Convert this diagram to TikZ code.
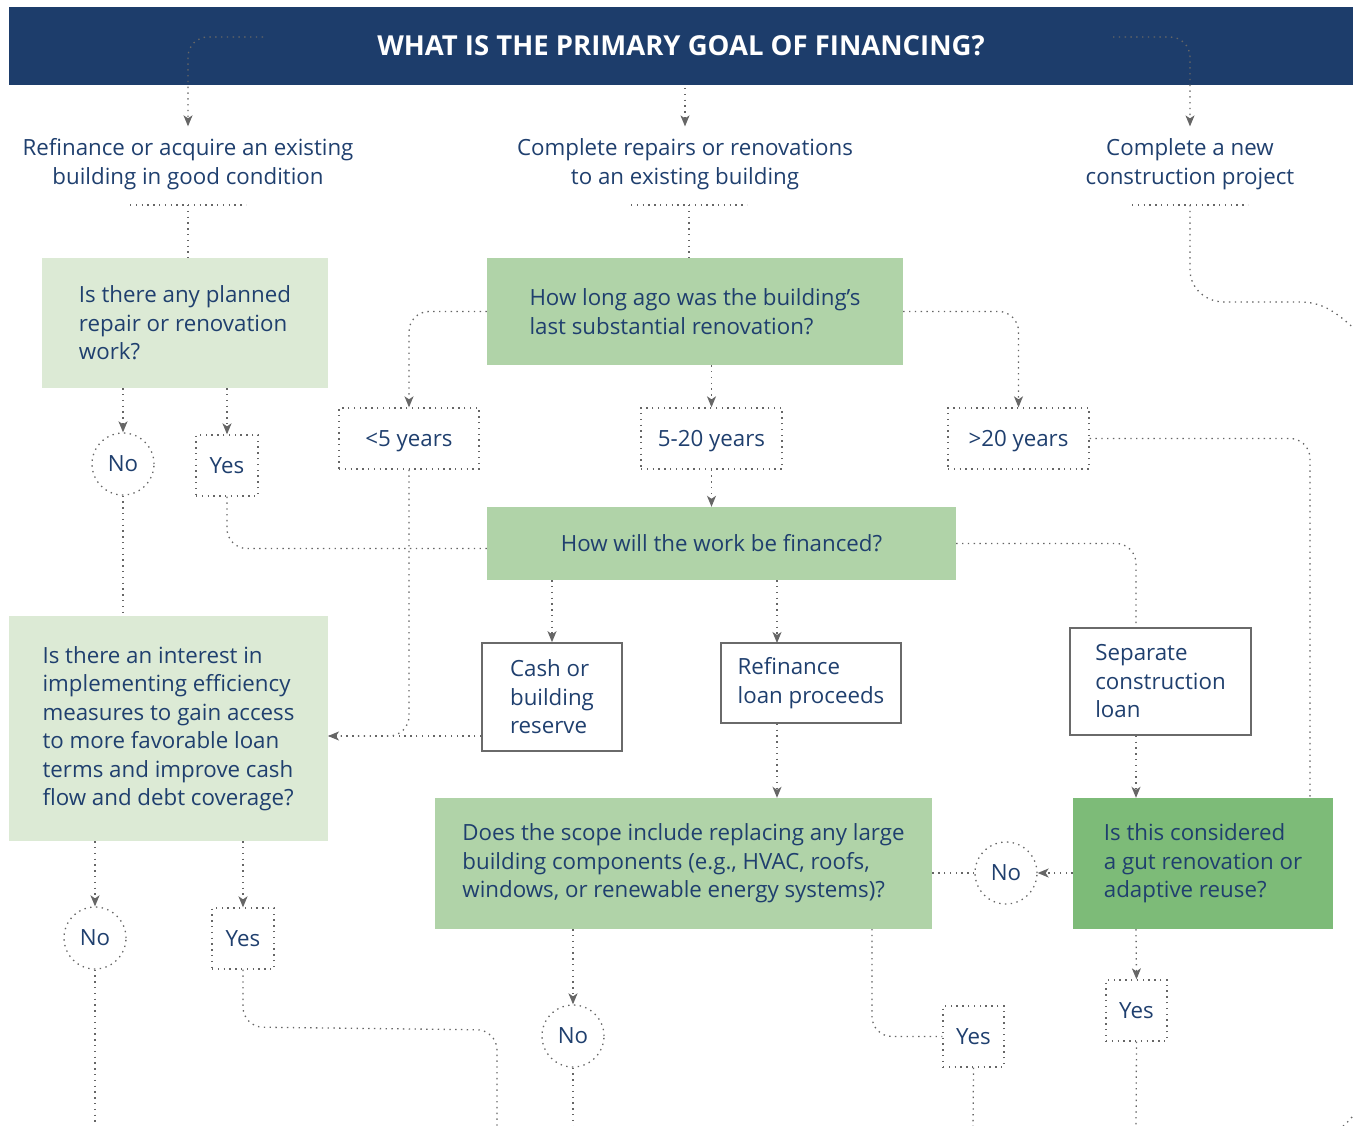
\documentclass[tikz,border=0pt]{standalone}
\usepackage{fontspec}
\setmainfont{Open Sans}
\usetikzlibrary{arrows.meta,calc}
\definecolor{hdr}{HTML}{1D3D6B}
\definecolor{ink}{HTML}{1F3F6E}
\definecolor{paleg}{HTML}{DCEAD5}
\definecolor{midg}{HTML}{B0D3A8}
\definecolor{deepg}{HTML}{7DBB78}
\definecolor{dotc}{HTML}{666666}
\definecolor{framec}{HTML}{6A6A6A}
% set a label a little lower without changing its box
\newcommand{\lowlabel}[1]{\raisebox{-3pt}[\height][\depth]{#1}}

\begin{document}
\begin{tikzpicture}[x=1pt,y=-1pt,
  every node/.style={text=ink, font=\fontsize{22.3}{28.5}\selectfont, inner sep=0pt},
  conn/.style={draw=dotc, line width=1.3pt, dash pattern=on 1.4pt off 4.4pt, rounded corners=20pt},
  arr/.style={conn, -{Stealth[length=11pt,width=9pt,inset=3pt,fill=dotc]}},
  head/.style={fill=hdr, text=white, font=\bfseries\fontsize{27.5}{30}\selectfont,
    minimum width=1344pt, minimum height=78pt},
  goal/.style={align=center, inner ysep=12pt},
  qbox/.style={rectangle, align=left},
  ansbox/.style={rectangle, draw=dotc, line width=1.3pt, dash pattern=on 1.4pt off 4.4pt},
  nocirc/.style={circle, draw=dotc, line width=1.3pt, dash pattern=on 1.4pt off 4.4pt,
    minimum size=62pt},
  yesbox/.style={ansbox, minimum width=62pt, minimum height=61pt},
  yearbox/.style={ansbox, minimum width=141pt, minimum height=61pt},
  fundbox/.style={rectangle, draw=framec, line width=1.6pt, align=left},
]
\useasboundingbox (0,0) rectangle (1353,1126);

% title bar
\node[head] (title) at (681,46) {WHAT IS THE PRIMARY GOAL OF FINANCING?};

% the three goals
\node[goal] (oL) at (188,164) {Refinance or acquire an existing\\building in good condition};
\node[goal] (oM) at (685,164) {Complete repairs or renovations\\to an existing building};
\node[goal] (oR) at (1190,164) {Complete a new\\construction project};

% questions
\node[qbox, fill=paleg, minimum width=286pt, minimum height=130pt] (qA) at (185,323)
  {Is there any planned\\repair or renovation\\work?};
\node[qbox, fill=midg, minimum width=416pt, minimum height=107pt] (qB) at (695,311.5)
  {How long ago was the building’s\\last substantial renovation?};
\node[qbox, fill=midg, minimum width=469pt, minimum height=73pt] (qW) at (721.5,543.5)
  {How will the work be financed?};
\node[qbox, fill=paleg, minimum width=319pt, minimum height=225pt] (qC) at (168.5,728.5)
  {Is there an interest in\\implementing efficiency\\measures to gain access\\to more favorable loan\\terms and improve cash\\flow and debt coverage?};
\node[qbox, fill=midg, minimum width=497pt, minimum height=131pt] (qE) at (683.5,863.5)
  {Does the scope include replacing any large\\building components (e.g., HVAC, roofs,\\windows, or renewable energy systems)?};
\node[qbox, fill=deepg, minimum width=260pt, minimum height=131pt] (qF) at (1203,863.5)
  {Is this considered\\a gut renovation or\\adaptive reuse?};

% renovation age
\node[yearbox, minimum width=140pt] (a1) at (409,438.5) {\lowlabel{<5 years}};
\node[yearbox] (a2) at (711.5,438.5) {\lowlabel{5-20 years}};
\node[yearbox] (a3) at (1018.5,438.5) {\lowlabel{>20 years}};

% funding sources
\node[fundbox, minimum width=140pt, minimum height=108pt] (fCash) at (552,697)
  {Cash or\\building\\reserve};
\node[fundbox, minimum width=180pt, minimum height=80pt] (fRefi) at (811,683)
  {Refinance\\loan proceeds};
\node[fundbox, minimum width=181pt, minimum height=107pt] (fSep) at (1160.5,681.5)
  {Separate\\construction\\loan};

% answers
\node[nocirc] (noA) at (123,464) {No};
\node[yesbox] (yesA) at (227,465.5) {Yes};
\node[nocirc] (noC) at (95,938) {No};
\node[yesbox] (yesC) at (243,938.5) {Yes};
\node[nocirc] (noE) at (573,1036) {No};
\node[yesbox, minimum width=61pt] (yesE) at (973.5,1036.5) {Yes};
\node[nocirc] (noF) at (1006,873) {No};
\node[yesbox, minimum width=61pt] (yesF) at (1136.5,1010.5) {Yes};

% helper points
\coordinate (hL) at (263,37);
\coordinate (hM) at (685,88);
\coordinate (hR) at (1113,37);
\coordinate (uL) at (188,205);
\coordinate (uM) at (689,205);
\coordinate (uR) at (1190,205);
\coordinate (exR) at (1364,337);
\coordinate (jC) at (328,736);
\coordinate (rT) at (777,643);
\coordinate (sT) at (1136,628);
\coordinate (fT) at (1310,798);
\coordinate (endC1) at (95,1132);
\coordinate (endC2) at (497,1132);
\coordinate (endE1) at (573,1132);
\coordinate (endE2) at (973,1132);
\coordinate (endF) at (1136,1132);
\coordinate (cornA) at (1333,1132);
\coordinate (cornB) at (1362,1108);

% from the title to the goals
\draw[arr] (hL) -| (oL.north);
\draw[arr] (hM) -- (hM |- oM.north);
\draw[arr] (hR) -| (oR.north);

% goal underlines and their drops
\draw[conn] ($(uL)+(-58,0)$) -- ($(uL)+(58,0)$);
\draw[conn] ($(uM)+(-58,0)$) -- ($(uM)+(58,0)$);
\draw[conn] ($(uR)+(-58,0)$) -- ($(uR)+(58,0)$);
\draw[conn] (uL) -- (uL |- qA.north);
\draw[conn] (uM) -- (uM |- qB.north);
\draw[conn, rounded corners=0pt] (uR) -- ++(0,65) to[out=-90,in=180] ++(34,32)
  -- ++(76,0) to[out=0,in=140] (exR);

% planned work?
\draw[arr] ($(qA.south)+(-62,0)$) -- (noA.north);
\draw[arr] ($(qA.south)+(42,0)$) -- (yesA.north);
\draw[conn] (noA.south) -- (noA.south |- qC.north);
\draw[conn] (yesA.south) |- ($(qW.west)+(0,5)$);

% renovation age
\draw[arr] (qB.west) -| (a1.north);
\draw[arr] (a2.north |- qB.south) -- (a2.north);
\draw[arr] (qB.east) -| (a3.north);
\draw[arr] (a2.south) -- (a2.south |- qW.north);
\draw[conn] (a1.south) |- (jC);
\draw[conn] (a3.east) -| (fT);

% how is it financed
\draw[arr] (fCash.north |- qW.south) -- (fCash.north);
\draw[arr] (rT |- qW.south) -- (rT);
\draw[conn] (qW.east) -| (sT);
\draw[arr] (fCash.west |- jC) -- (jC);
\draw[arr] (rT |- fRefi.south) -- (rT |- qE.north);
\draw[arr] (sT |- fSep.south) -- (sT |- qF.north);

% efficiency interest
\draw[arr] (noC.north |- qC.south) -- (noC.north);
\draw[arr] (yesC.north |- qC.south) -- (yesC.north);
\draw[conn] (noC.south) -- (endC1);
\draw[conn] (yesC.south) -- (243,1027) -- (497,1030) -- (endC2);

% scope
\draw[arr] (noE.north |- qE.south) -- (noE.north);
\draw[conn] (872,929) |- (yesE.west);
\draw[conn] (noE.south) -- (endE1);
\draw[conn] (yesE.south) -- (endE2);

% gut renovation
\draw[arr] (qF.west |- noF.east) -- (noF.east);
\draw[conn] (noF.west) -- (qE.east |- noF.west);
\draw[arr] (sT |- qF.south) -- (yesF.north);
\draw[conn] (yesF.south) -- (endF);
\draw[conn, rounded corners=0pt] (cornA) to[out=20,in=215] (cornB);
\end{tikzpicture}
\end{document}
